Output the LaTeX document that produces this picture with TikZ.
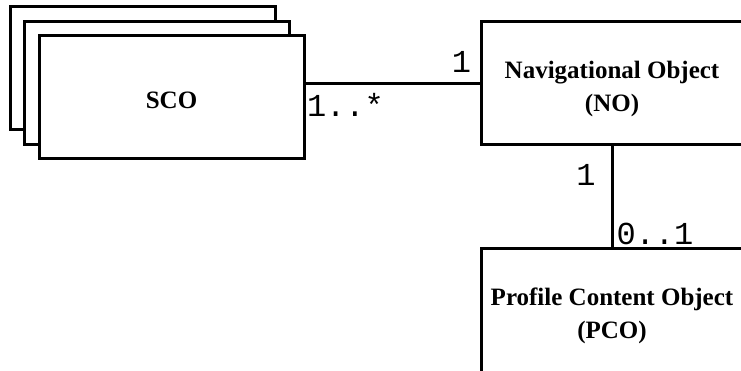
\documentclass[tikz,border=0pt]{standalone}
\usepackage{fontspec}
\setmainfont{Liberation Serif}
\setmonofont{Liberation Mono}
\usetikzlibrary{positioning}
\tikzstyle{object} = [rectangle, draw=black, line width=3pt, fill=white, minimum width=265pt, minimum height=123pt, align=center, font=\fontsize{25}{33}\selectfont\bfseries]
\tikzstyle{mult} = [inner sep=0pt, font=\fontsize{32}{32}\selectfont\ttfamily]
\tikzstyle{link} = [line width=3pt]
\newcommand{\toplift}[1]{\rule{0pt}{#1}}
\begin{document}
\begin{tikzpicture}[x=1pt, y=-1pt]
    \useasboundingbox (0,0) rectangle (741,371);
    \node (scoback) [object] at (142.5,68.5) {};
    \node (scomid) [object] at (157,83) {};
    \node (sco) [object] at (171.5,97.5) {\toplift{23pt}SCO};
    \node (no) [object, minimum width=262pt] at (612,83.5) {\toplift{28pt}Navigational Object\\(NO)};
    \node (pco) [object, minimum width=262pt, minimum height=128pt, below=101pt of no] {\toplift{23pt}Profile Content Object\\(PCO)};
    \draw [link] (no.west -| sco.east) -- node[mult, pos=0, anchor=north west, yshift=-8pt] {1..*} node[mult, pos=1, anchor=south east, xshift=-7pt, yshift=9pt] {1} (no.west);
    \draw [link] (no.south) -- node[mult, pos=0, anchor=north east, xshift=-15pt, yshift=-16pt] {1} node[mult, pos=1, anchor=south west, xshift=3pt, yshift=1pt] {0..1} (pco.north);
\end{tikzpicture}
\end{document}
